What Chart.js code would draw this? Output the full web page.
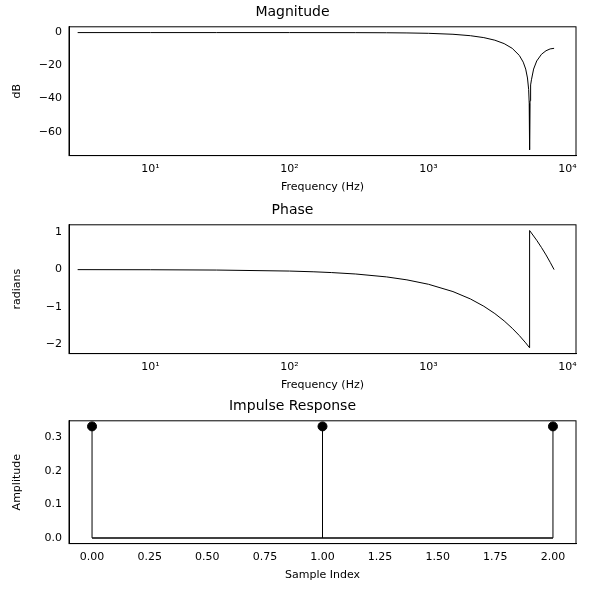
<!DOCTYPE html>
<html><head><meta charset="utf-8">
<script src="https://cdn.jsdelivr.net/npm/chart.js@4"></script>
<style>
body{margin:0;background:#fff;font-family:"DejaVu Sans",sans-serif}
.box{position:absolute;left:0;width:589px}
</style></head>
<body>
<div class="box" style="top:0;height:196px"><canvas id="mag"></canvas></div>
<div class="box" style="top:198px;height:196px"><canvas id="phase"></canvas></div>
<div class="box" style="top:394px;height:196px"><canvas id="imp"></canvas></div>
<script>
// frequency grid (Hz) and values
const freqs = [3, 10, 30, 100, 300, 500, 700, 1000, 1500, 2000, 2500, 3000, 3500, 4000, 4500, 4800, 5000, 5150, 5250, 5300, 5333, 5370, 5400, 5450, 5500, 5700, 6000, 6500, 7000, 7500, 8000];
const magDb = [0, 0, 0, 0, -0.04, -0.11, -0.22, -0.45, -1.03, -1.89, -3.05, -4.61, -6.68, -9.54, -13.84, -17.9, -22.1, -27.5, -34.4, -42.9, -71, -41.3, -36.5, -31.7, -28.6, -22.1, -17.2, -13.1, -11.0, -9.88, -9.54];
const phaseFreqs = [3, 10, 30, 100, 150, 200, 300, 500, 700, 1000, 1500, 2000, 2500, 3000, 3500, 4000, 4500, 5000, 5333, 5334, 6000, 6500, 7000, 7500, 8000];
const phaseRad = [-0.001, -0.004, -0.012, -0.039, -0.059, -0.079, -0.118, -0.196, -0.275, -0.393, -0.589, -0.785, -0.982, -1.178, -1.374, -1.571, -1.767, -1.963, -2.094, 1.047, 0.785, 0.589, 0.393, 0.196, 0];
const sampleIdx = [0, 1, 2];
const impulse = [0.3333, 0.3333, 0.3333];
const magTicks = [0, -20, -40, -60];
const phaseTicks = [-2, -1, 0, 1];
const impTicks = [0, 0.1, 0.2, 0.3];
const sampleTicks = [0, 0.25, 0.5, 0.75, 1, 1.25, 1.5, 1.75, 2];

const FONT = {family: 'DejaVu Sans', size: 11};
const SUP = {'0':'⁰','1':'¹','2':'²','3':'³','4':'⁴','5':'⁵','-':'⁻'};
Chart.defaults.color = '#000';
Chart.defaults.animation = false;

const frame = {
    id: 'frame',
    afterDraw(c) {
        const a = c.chartArea, g = c.ctx;
        g.save(); g.strokeStyle = '#000'; g.lineWidth = 1;
        g.strokeRect(a.left, a.top, a.right - a.left, a.bottom - a.top);
        g.restore();
    }
};

function yAxis(title, min, max, ticks, dec) {
    return {
        min: min, max: max,
        title: {display: true, text: title, font: FONT, padding: 2},
        grid: {display: false, drawTicks: true, tickLength: 4, tickColor: '#000'},
        border: {color: '#000'},
        afterFit: s => { s.width = 60; },
        afterBuildTicks: s => { s.ticks = ticks.map(v => ({value: v})); },
        ticks: {font: FONT, padding: 3, autoSkip: false,
            callback: v => (dec ? v.toFixed(dec) : String(v)).replace('-', '−')}
    };
}

function logX() {
    return {
        type: 'logarithmic', min: 2.6, max: 11500,
        title: {display: true, text: 'Frequency (Hz)', font: FONT, padding: 2},
        grid: {display: false, tickLength: 4, tickColor: '#000'},
        border: {color: '#000'},
        afterBuildTicks: s => {
            const t = [];
            for (let e = 0; e <= 4; e++) for (let m = 1; m <= 9; m++) {
                const v = m * Math.pow(10, e);
                if (v >= 2.6 && v <= 11500) t.push({value: v});
            }
            s.ticks = t;
        },
        ticks: {font: FONT, autoSkip: false, maxRotation: 0, padding: 3,
            callback: v => {
                const e = Math.log10(v);
                return Math.abs(e - Math.round(e)) < 1e-9 && e >= 1 ? '10' + String(Math.round(e)).split('').map(d => SUP[d]).join('') : '';
            }}
    };
}

function titleOpt(t) {
    return {display: true, text: t, font: {family: 'DejaVu Sans', size: 14, weight: 'normal'}, padding: {top: 0, bottom: 6}};
}

function lineChart(id, xs, ys, title, yTitle, ymin, ymax, ticks) {
    new Chart(document.getElementById(id), {
        type: 'line',
        data: {datasets: [{data: xs.map((x, i) => ({x: x, y: ys[i]})), borderColor: '#000', borderWidth: 1, pointRadius: 0, tension: 0}]},
        options: {
            responsive: true, maintainAspectRatio: false,
            layout: {padding: {left: 9, right: 13, top: 4}},
            plugins: {legend: {display: false}, tooltip: {enabled: false}, title: titleOpt(title)},
            scales: {x: logX(), y: yAxis(yTitle, ymin, ymax, ticks, 0)}
        },
        plugins: [frame]
    });
}

lineChart('mag', freqs, magDb, 'Magnitude', 'dB', -74.5, 3.5, magTicks);
lineChart('phase', phaseFreqs, phaseRad, 'Phase', 'radians', -2.25, 1.2, phaseTicks);

// impulse response as stem plot
const stemSets = sampleIdx.map((x, i) => ({
    type: 'line', data: [{x: x, y: 0}, {x: x, y: impulse[i]}],
    borderColor: '#000', borderWidth: 1, pointRadius: 0
}));
new Chart(document.getElementById('imp'), {
    type: 'scatter',
    data: {datasets: [
        {type: 'line', data: [{x: sampleIdx[0], y: 0}, {x: sampleIdx[sampleIdx.length - 1], y: 0}], borderColor: '#000', borderWidth: 1.5, pointRadius: 0}
    ].concat(stemSets, [
        {data: sampleIdx.map((x, i) => ({x: x, y: impulse[i]})), backgroundColor: '#000', borderColor: '#000', pointRadius: 4.5}
    ])},
    options: {
        responsive: true, maintainAspectRatio: false,
        layout: {padding: {left: 9, right: 13, top: 4, bottom: 6}},
        plugins: {legend: {display: false}, tooltip: {enabled: false}, title: titleOpt('Impulse Response')},
        scales: {
            x: {type: 'linear', min: -0.1, max: 2.1,
                title: {display: true, text: 'Sample Index', font: FONT, padding: 2},
                grid: {display: false, tickLength: 4, tickColor: '#000'}, border: {color: '#000'},
                afterBuildTicks: s => { s.ticks = sampleTicks.map(v => ({value: v})); },
                ticks: {font: FONT, maxRotation: 0, autoSkip: false, padding: 3, callback: v => v.toFixed(2)}},
            y: yAxis('Amplitude', -0.017, 0.35, impTicks, 1)
        }
    },
    plugins: [frame]
});
</script>
</body></html>
